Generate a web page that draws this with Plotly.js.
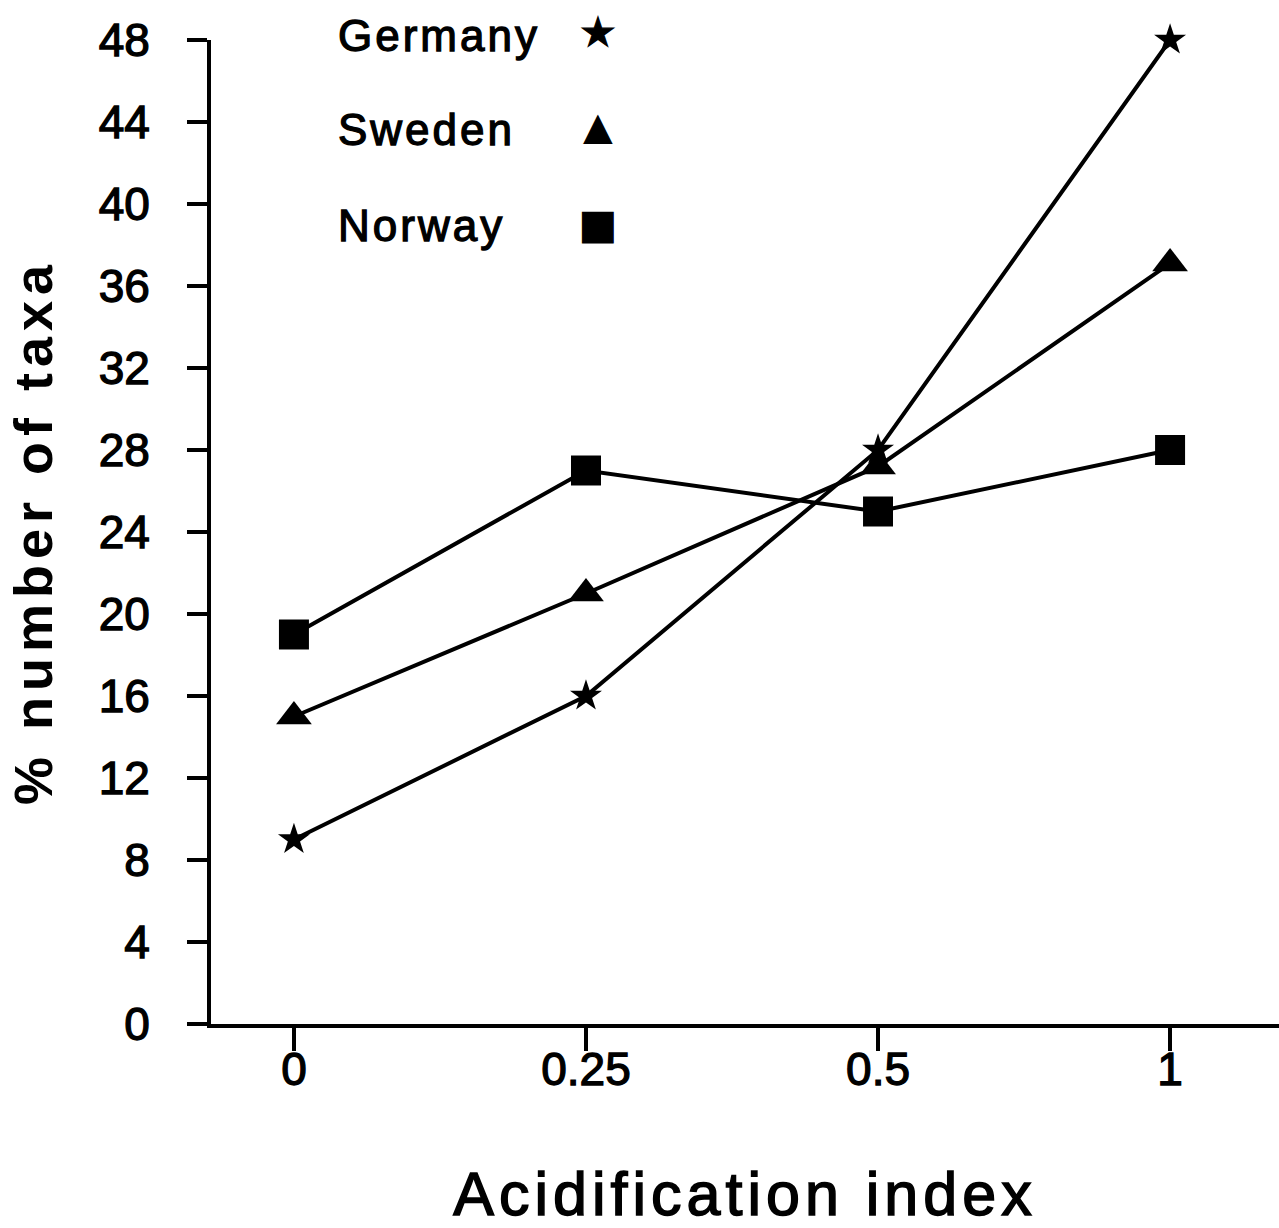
<!DOCTYPE html>
<html>
<head>
<meta charset="utf-8">
<script src="https://cdn.plot.ly/plotly-3.0.1.min.js"></script>
<style>
  html, body { margin: 0; padding: 0; background: #fff; }
  #chart { width: 1279px; height: 1228px; }
  /* wide tracking and heavy strokes on the text */
  .annotation-text { letter-spacing: 3px; stroke: #000; stroke-width: 1.3px; }
  .xtitle { letter-spacing: 5px; stroke: #000; stroke-width: 1.5px; }
  .ytitle { letter-spacing: 6px; }
  .xtick text, .ytick text { stroke: #000 !important; stroke-width: 1.3px !important; }
</style>
</head>
<body>
<div id="chart"></div>
<script>
// Acidification index classes (plotted as evenly spaced categories)
const categories = ['0', '0.25', '0.5', '1'];

// % number of taxa in each class
const germany = [9, 16, 28, 48];
const sweden  = [15, 21, 27.2, 37.1];
const norway  = [19, 27, 25, 28];

const yTicks = [0, 4, 8, 12, 16, 20, 24, 28, 32, 36, 40, 44, 48];

const seriesNames = ['Germany', 'Sweden', 'Norway'];
const legendGlyphs = ['\u2605', '\u25B2', '\u25A0'];

const lineStyle = { color: '#000', width: 4 };

const traces = [
  {
    x: categories, y: germany, name: seriesNames[0], type: 'scatter', mode: 'lines+markers',
    cliponaxis: false,
    line: lineStyle, marker: { symbol: 'star', size: 24, color: '#000' }
  },
  {
    x: categories, y: sweden, name: seriesNames[1], type: 'scatter', mode: 'lines+markers',
    cliponaxis: false,
    line: lineStyle, marker: { symbol: 'triangle-up', size: 31, color: '#000' }
  },
  {
    x: categories, y: norway, name: seriesNames[2], type: 'scatter', mode: 'lines+markers',
    cliponaxis: false,
    line: lineStyle, marker: { symbol: 'square', size: 30, color: '#000' }
  }
];

const tickFont = { family: 'Liberation Sans, Arial, sans-serif', size: 46, color: '#000' };

// legend drawn as labels with the symbol to the right of each name
const legendRowsY = [1.005, 0.909, 0.811];
const annotations = [];
seriesNames.forEach((name, i) => {
  annotations.push({
    xref: 'paper', yref: 'paper', x: 0.117, y: legendRowsY[i],
    xanchor: 'left', yanchor: 'middle', showarrow: false,
    text: name,
    font: { family: 'Liberation Sans, Arial, sans-serif', size: 44, color: '#000' }
  });
});
const glyphSizes = [40, 36, 40];
const glyphRowsY = [1.008, 0.912, 0.813];
legendGlyphs.forEach((g, i) => {
  annotations.push({
    xref: 'paper', yref: 'paper', x: 0.364, y: glyphRowsY[i],
    xanchor: 'center', yanchor: 'middle', showarrow: false,
    text: g,
    font: { family: 'DejaVu Sans, sans-serif', size: glyphSizes[i], color: '#000' }
  });
});

const layout = {
  width: 1279,
  height: 1228,
  margin: { l: 211, r: 0, t: 40, b: 204 },
  paper_bgcolor: '#fff',
  plot_bgcolor: '#fff',
  showlegend: false,
  xaxis: {
    type: 'category',
    range: [-0.284, 3.373],
    showgrid: false, zeroline: false,
    showline: true, linecolor: '#000', linewidth: 4,
    ticks: 'outside', ticklen: 23, tickwidth: 3.5, tickcolor: '#000',
    ticklabelstandoff: -21,
    tickfont: tickFont,
    title: {
      text: 'Acidification index',
      font: { family: 'Liberation Sans, Arial, sans-serif', size: 61, color: '#000' },
      standoff: 89
    }
  },
  yaxis: {
    range: [0, 48],
    tickvals: yTicks,
    ticktext: yTicks.map(String),
    showgrid: false, zeroline: false,
    showline: true, linecolor: '#000', linewidth: 4,
    ticks: 'outside', ticklen: 20, tickwidth: 3.5, tickcolor: '#000',
    ticklabelstandoff: 28,
    tickfont: tickFont,
    title: {
      text: '% number of taxa',
      font: { family: 'Liberation Sans, Arial, sans-serif', size: 54, color: '#000', weight: 'bold' },
      standoff: 30
    }
  },
  annotations: annotations
};

Plotly.newPlot('chart', traces, layout, { displayModeBar: false, staticPlot: true });
</script>
</body>
</html>
